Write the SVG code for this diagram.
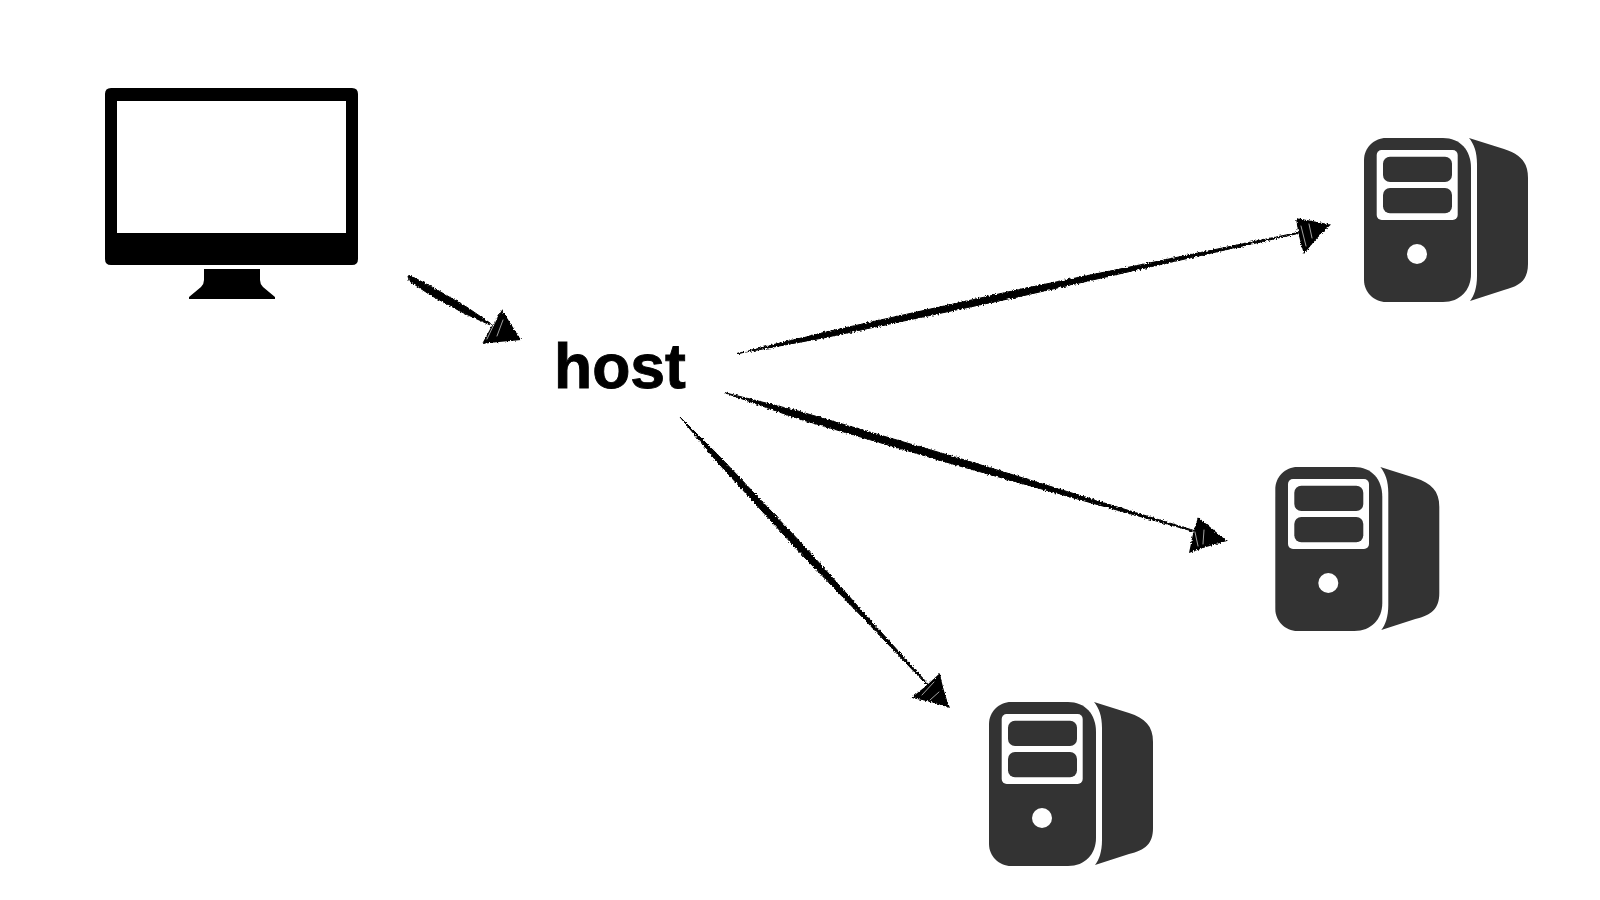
<svg xmlns="http://www.w3.org/2000/svg" xmlns:xlink="http://www.w3.org/1999/xlink" width="1600" height="900" viewBox="0 0 1600 900">
<style>
.ink{fill:#000}
.shaft{fill:#000;stroke:#000;stroke-width:1;stroke-linejoin:round}
.srv{fill:#333}
.hole{fill:#fff}
.streak{fill:none;stroke:#fff;stroke-width:.8;stroke-linecap:round;opacity:.8}
.label{font-family:"Liberation Sans",Arial,sans-serif;font-weight:700;font-size:62.5px;fill:#000;stroke:#000;stroke-width:.9}
</style>
<defs>
<filter id="rough" filterUnits="userSpaceOnUse" x="380" y="190" width="980" height="540">
<feTurbulence type="fractalNoise" baseFrequency="0.55" numOctaves="2" seed="4" result="n"/>
<feDisplacementMap in="SourceGraphic" in2="n" scale="3.5" xChannelSelector="R" yChannelSelector="G"/>
</filter>
<g id="server">
<path class="srv" d="M22,0 H79 C96,0 107,12 107,30 V136 C107,152 96,164 79,164 H22 C10,164 0,154 0,142 V22 C0,10 10,0 22,0 Z"/>
<rect class="hole" x="12.7" y="12" width="81" height="70" rx="5"/>
<rect class="srv" x="19" y="18.7" width="69" height="25.3" rx="7"/>
<rect class="srv" x="19" y="50" width="69" height="25.3" rx="7"/>
<circle class="hole" cx="53" cy="116" r="10"/>
<path class="srv" d="M105,0 L140,11 C156,16 164,24 164,40 L164,126 C164,142 156,148 140,152 L106,163 C110,158 113,150 113,138 L113,26 C113,14 110,6 105,0 Z"/>
</g>
</defs>
<rect width="1600" height="900" fill="#fff"/>
<g id="monitor">
<path class="ink" fill-rule="evenodd" d="M111,88 H352 Q358,88 358,94 V259 Q358,265 352,265 H111 Q105,265 105,259 V94 Q105,88 111,88 Z M117,101 V233 H346 V101 Z"/>
<path class="ink" d="M204,269 H260 V280 Q260,284 263,287 L275,297 V299 H189 V297 L201,287 Q204,284 204,280 Z"/>
</g>
<g id="host"><text class="label" x="554" y="388">host</text></g>
<g id="server-1"><use xlink:href="#server" href="#server" x="1364" y="138"/></g>
<g id="server-2"><use xlink:href="#server" href="#server" x="1275.3" y="467"/></g>
<g id="server-3"><use xlink:href="#server" href="#server" x="989" y="702"/></g>
<g id="connectors">
<g filter="url(#rough)">
<path class="shaft" d="M408,276 L410,275.5 L434.5,288.4 L467,307.3 L490.4,323.3 L489.6,324.7 L463.8,313.1 L430.7,295.2 L409,280.7 Z"/>
<path class="ink" d="M502,310 L521,340 Q500,342 482,344 Q491,326 502,310 Z"/>
<path class="shaft" d="M738,353.5 L825,332.2 L1020.1,289.3 L1159.1,261 L1298,232.5 L1298,233.5 L1158.5,265 L1018.9,296.7 L824,337.8 Z"/>
<path class="ink" d="M1296,218 L1331,224.5 Q1316,238 1304,254 Q1298,236 1296,218 Z"/>
<path class="shaft" d="M724,392.5 L798,411 L961.5,459 L1077.6,494.8 L1194,530.5 L1194,531.5 L1076.4,498.7 L959.5,466 L796,418 Z"/>
<path class="ink" d="M1198,517 L1227,541 Q1208,546 1189,553 Q1192,535 1198,517 Z"/>
<path class="shaft" d="M680,417 L720.8,457.7 L807.2,549.4 L867.2,616.7 L927.5,683.5 L926.5,684.5 L864.4,619.3 L801.8,554.6 L716.8,461.5 Z"/>
<path class="ink" d="M940,673 Q943,691 950,708 Q931,701 911,698 Q927,686 940,673 Z"/>
</g>
<path class="streak" d="M497,318 L487,339 M503,320 L497,336 M1301,226 L1306,246 M1309,224 L1312,238 M1195,532 L1198,546 M1204,530 L1203,544 M934,682 L922,695 M939,692 L930,700"/>
</g>
</svg>
